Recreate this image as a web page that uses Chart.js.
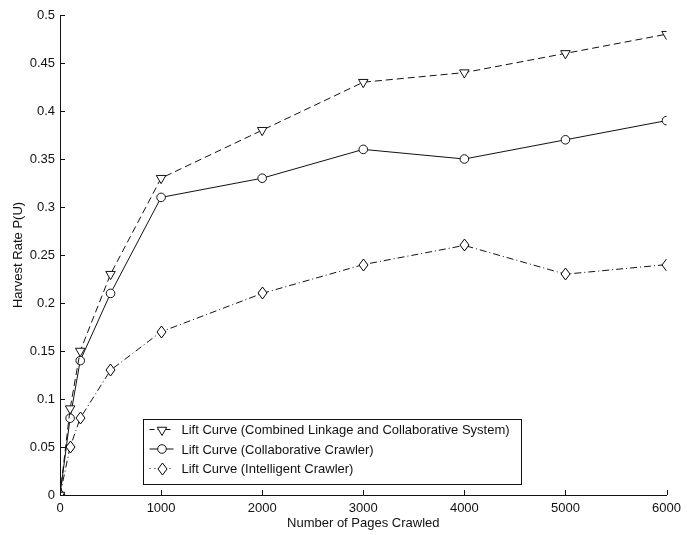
<!DOCTYPE html>
<html>
<head>
<meta charset="utf-8">
<script src="https://cdn.jsdelivr.net/npm/chart.js@4/dist/chart.umd.min.js"></script>
<style>
  html, body { margin: 0; padding: 0; background: #fff; }
  #wrap { width: 687px; height: 535px; position: relative; }
</style>
</head>
<body>
<div id="wrap"><canvas id="c" width="687" height="535"></canvas></div>
<script>
// Pages crawled (x) and harvest rate for each crawler
const pagesCrawled = [0, 100, 200, 500, 1000, 2000, 3000, 4000, 5000, 6000];
const combinedSystem = [0, 0.09, 0.15, 0.23, 0.33, 0.38, 0.43, 0.44, 0.46, 0.48];
const collaborativeCrawler = [0, 0.08, 0.14, 0.21, 0.31, 0.33, 0.36, 0.35, 0.37, 0.39];
const intelligentCrawler = [0, 0.05, 0.08, 0.13, 0.17, 0.21, 0.24, 0.26, 0.23, 0.24];

const seriesLabels = [
  'Lift Curve (Combined Linkage and Collaborative System)',
  'Lift Curve (Collaborative Crawler)',
  'Lift Curve (Intelligent Crawler)'
];
const xTitle = 'Number of Pages Crawled';
const yTitle = 'Harvest Rate P(U)';

const FONT = 'Liberation Sans, Arial, Helvetica, sans-serif';
const FS = 13;
const INK = '#111';

function toPoints(ys) { return pagesCrawled.map((x, i) => ({ x, y: ys[i] })); }

// Tall, narrow diamond marker
function makeDiamond(w, h) {
  const c = document.createElement('canvas');
  c.width = w + 2; c.height = h + 2;
  const g = c.getContext('2d');
  const cx = c.width / 2, cy = c.height / 2;
  g.beginPath();
  g.moveTo(cx, cy - h / 2);
  g.lineTo(cx + w / 2, cy);
  g.lineTo(cx, cy + h / 2);
  g.lineTo(cx - w / 2, cy);
  g.closePath();
  g.fillStyle = '#fff';
  g.fill();
  g.strokeStyle = '#000';
  g.lineWidth = 1;
  g.stroke();
  return c;
}
const diamond = makeDiamond(9, 12);

const datasets = [
  { label: seriesLabels[0], data: toPoints(combinedSystem), borderDash: [7, 4],
    legendDash: [5, 3], pointStyle: 'triangle', pointRotation: 180, pointRadius: 5.5 },
  { label: seriesLabels[1], data: toPoints(collaborativeCrawler), borderDash: [],
    legendDash: [], pointStyle: 'circle', pointRotation: 0, pointRadius: 4.3 },
  { label: seriesLabels[2], data: toPoints(intelligentCrawler), borderDash: [7, 3, 1, 3],
    legendDash: [1, 4], pointStyle: diamond, pointRotation: 0, pointRadius: 6 }
].map(d => Object.assign({
  borderColor: INK, borderWidth: 1, backgroundColor: '#fff',
  pointBackgroundColor: '#fff', pointBorderColor: INK, pointBorderWidth: 1,
  tension: 0, fill: false
}, d));

// Keep image markers crisp (no resampling blur at fractional positions)
const crispImages = {
  id: 'crispImages',
  beforeDraw(chart) { chart.ctx.imageSmoothingEnabled = false; }
};

// Inward tick marks on the left and bottom axes
const inwardTicks = {
  id: 'inwardTicks',
  afterDatasetsDraw(chart) {
    const { ctx, chartArea, scales } = chart;
    ctx.save();
    ctx.strokeStyle = INK;
    ctx.lineWidth = 1;
    ctx.beginPath();
    scales.x.ticks.forEach(t => {
      const px = Math.round(scales.x.getPixelForValue(t.value)) + 0.5;
      ctx.moveTo(px, chartArea.bottom);
      ctx.lineTo(px, chartArea.bottom - 5);
    });
    scales.y.ticks.forEach(t => {
      const py = Math.round(scales.y.getPixelForValue(t.value)) + 0.5;
      ctx.moveTo(chartArea.left, py);
      ctx.lineTo(chartArea.left + 5, py);
    });
    ctx.stroke();
    ctx.restore();
  }
};

// Boxed legend inside the plot area
const boxedLegend = {
  id: 'boxedLegend',
  afterDraw(chart) {
    const { ctx } = chart;
    const x0 = 143.5, y0 = 419.5, w = 378, h = 65, row = 19.5;
    ctx.save();
    ctx.fillStyle = '#fff';
    ctx.fillRect(x0, y0, w, h);
    ctx.strokeStyle = INK;
    ctx.lineWidth = 1;
    ctx.strokeRect(x0, y0, w, h);
    ctx.font = FS + 'px ' + FONT;
    ctx.textBaseline = 'middle';
    chart.data.datasets.forEach((ds, i) => {
      const cy = y0 + 10 + i * row;
      ctx.strokeStyle = INK;
      ctx.setLineDash(ds.legendDash);
      ctx.beginPath();
      ctx.moveTo(x0 + 6, cy);
      ctx.lineTo(x0 + 30, cy);
      ctx.stroke();
      ctx.setLineDash([]);
      ctx.fillStyle = '#fff';
      ctx.beginPath();
      Chart.helpers.drawPoint(ctx, {
        pointStyle: ds.pointStyle, rotation: ds.pointRotation,
        radius: ds.pointRadius, borderWidth: 1
      }, Math.round(x0 + 18), Math.round(cy));
      ctx.fillStyle = INK;
      ctx.fillText(ds.label, x0 + 38, cy + 1);
    });
    ctx.restore();
  }
};

new Chart(document.getElementById('c'), {
  type: 'line',
  data: { datasets },
  options: {
    responsive: false,
    animation: false,
    layout: { padding: { top: 15, right: 19, left: 0, bottom: 0 } },
    plugins: { legend: { display: false }, tooltip: { enabled: false } },
    scales: {
      x: {
        type: 'linear', min: 0, max: 6000,
        afterFit(s) { s.height = 40; },
        grid: { display: false, drawTicks: false },
        border: { display: true, color: INK, width: 1 },
        ticks: { stepSize: 1000, color: INK, padding: 6, maxRotation: 0,
          font: { family: FONT, size: FS },
          callback: v => String(v) },
        title: { display: true, text: xTitle, color: INK,
          font: { family: FONT, size: FS }, padding: { top: 2, bottom: 4 } }
      },
      y: {
        type: 'linear', min: 0, max: 0.5,
        afterFit(s) { s.width = 60; },
        grid: { display: false, drawTicks: false },
        border: { display: true, color: INK, width: 1 },
        ticks: { stepSize: 0.05, color: INK, padding: 5,
          font: { family: FONT, size: FS },
          callback: v => String(parseFloat(v.toFixed(2))) },
        title: { display: true, text: yTitle, color: INK,
          font: { family: FONT, size: FS }, padding: { top: 11, bottom: 4 } }
      }
    }
  },
  plugins: [crispImages, inwardTicks, boxedLegend]
});
</script>
</body>
</html>
